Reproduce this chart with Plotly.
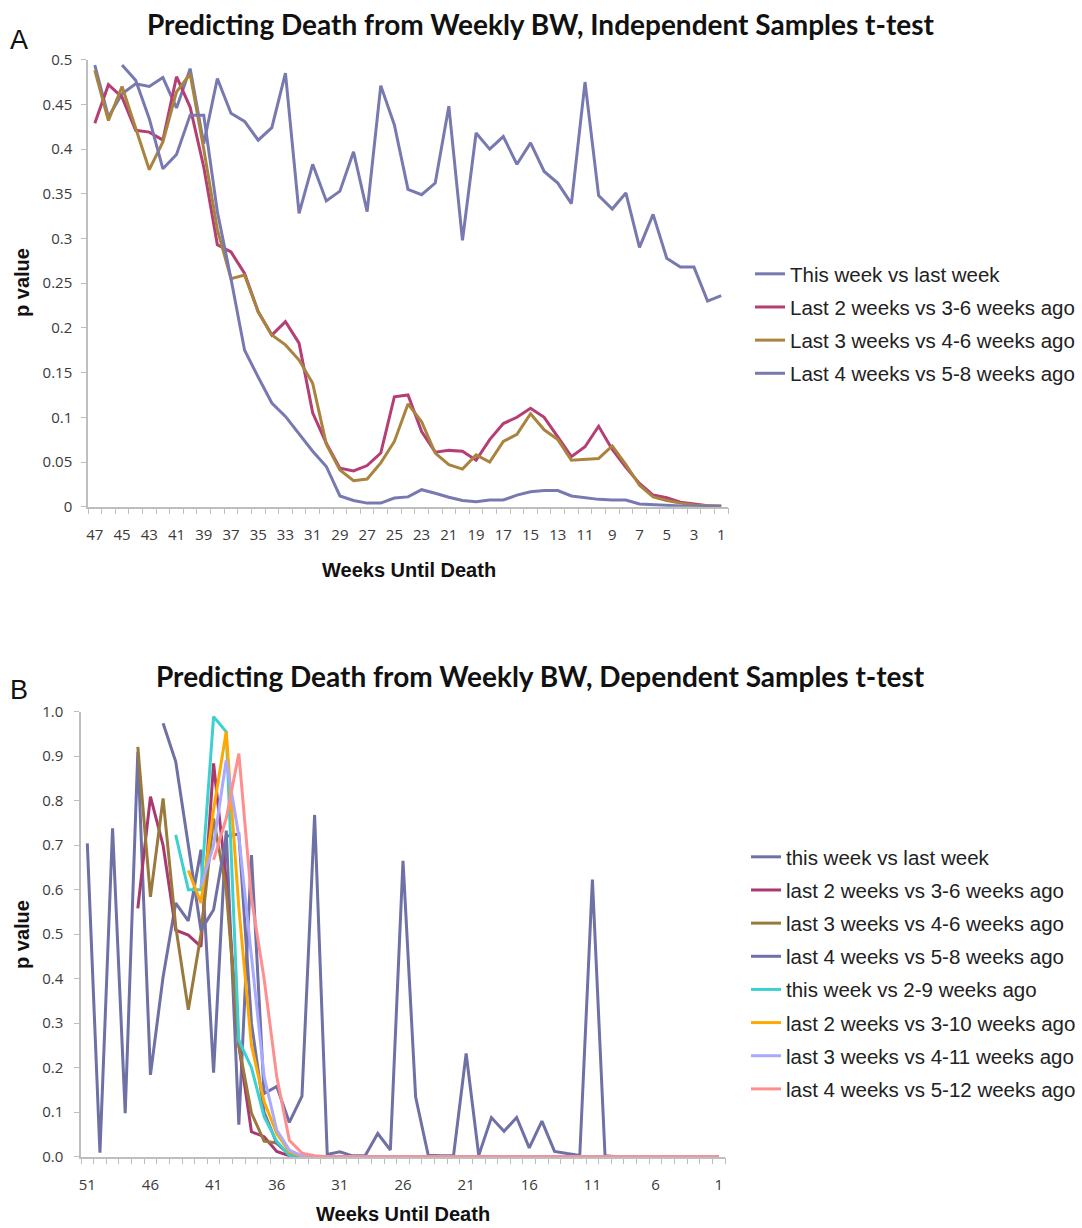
import plotly.graph_objects as go

# ---------------- Panel A: independent samples t-test ----------------
weeks_a = list(range(47, 0, -1))

this_week_a = [0.494, 0.436, 0.462, 0.473, 0.470, 0.480, 0.446, 0.490, 0.406, 0.479,
               0.440, 0.431, 0.410, 0.424, 0.485, 0.328, 0.383, 0.342, 0.353, 0.397,
               0.330, 0.471, 0.427, 0.355, 0.349, 0.362, 0.448, 0.298, 0.418, 0.400,
               0.414, 0.383, 0.407, 0.375, 0.362, 0.339, 0.475, 0.348, 0.333, 0.351,
               0.290, 0.327, 0.278, 0.268, 0.268, 0.230, 0.236]

last2_a = [0.429, 0.472, 0.458, 0.421, 0.419, 0.410, 0.481, 0.447, 0.380, 0.293,
           0.285, 0.261, 0.218, 0.192, 0.207, 0.183, 0.105, 0.071, 0.043, 0.040,
           0.046, 0.060, 0.123, 0.125, 0.084, 0.061, 0.063, 0.062, 0.052, 0.075,
           0.093, 0.100, 0.110, 0.100, 0.078, 0.056, 0.067, 0.090, 0.064, 0.044,
           0.026, 0.013, 0.010, 0.005, 0.003, 0.001, 0.0007]

last3_a = [0.488, 0.432, 0.470, 0.424, 0.377, 0.408, 0.464, 0.484, 0.400, 0.310,
           0.255, 0.259, 0.218, 0.192, 0.181, 0.164, 0.138, 0.070, 0.041, 0.029,
           0.031, 0.049, 0.073, 0.115, 0.095, 0.060, 0.047, 0.042, 0.058, 0.050,
           0.073, 0.081, 0.104, 0.086, 0.075, 0.052, 0.053, 0.054, 0.068, 0.047,
           0.024, 0.011, 0.007, 0.004, 0.002, 0.001, 0.0005]

last4_a = [None, None, 0.494, 0.477, 0.434, 0.378, 0.394, 0.438, 0.438, 0.330,
           0.255, 0.175, 0.145, 0.116, 0.101, 0.082, 0.062, 0.045, 0.012, 0.007,
           0.004, 0.004, 0.0097, 0.011, 0.019, 0.015, 0.0105, 0.007, 0.0056, 0.0075,
           0.0075, 0.013, 0.0168, 0.018, 0.018, 0.012, 0.0097, 0.0082, 0.0075, 0.0075,
           0.003, 0.002, 0.001, 0.0007, 0.0005, 0.0003, 0.0002]

names_a = ["This week vs last week", "Last 2 weeks vs 3-6 weeks ago",
           "Last 3 weeks vs 4-6 weeks ago", "Last 4 weeks vs 5-8 weeks ago"]
colors_a = ["#7779B0", "#B53E74", "#A8843F", "#7779B0"]

yticks_a = [0, 0.05, 0.1, 0.15, 0.2, 0.25, 0.3, 0.35, 0.4, 0.45, 0.5]
yticktext_a = ["0", "0.05", "0.1", "0.15", "0.2", "0.25", "0.3", "0.35", "0.4", "0.45", "0.5"]
xticks_a = list(range(47, 0, -2))

# ---------------- Panel B: dependent samples t-test ----------------
weeks_b = list(range(51, 0, -1))

this_week_b = [0.704, 0.009, 0.738, 0.098, 0.910, 0.184, 0.404, 0.570, 0.530, 0.690,
               0.189, 0.733, 0.072, 0.678, 0.142, 0.158, 0.077, 0.136, 0.768, 0.005,
               0.011, 0.002, 0.002, 0.052, 0.015, 0.665, 0.134, 0.003, 0.002, 0.002,
               0.232, 0.003, 0.088, 0.057, 0.088, 0.020, 0.080, 0.012, 0.007, 0.003,
               0.623, 0.002, 0.0, 0.0, 0.0, 0.0, 0.0, 0.0, 0.0, 0.0, 0.0]

last2_b = [None, None, None, None, 0.558, 0.809, 0.700, 0.509, 0.498, 0.472,
           0.884, 0.620, 0.250, 0.056, 0.045, 0.012, 0.002, 0.0, 0.0, 0.0,
           0.0, 0.0, 0.0, 0.0, 0.0, 0.0, 0.0, 0.0, 0.0, 0.0,
           0.0, 0.0, 0.0, 0.0, 0.0, 0.0, 0.0, 0.0, 0.0, 0.0,
           0.0, 0.0, 0.0, 0.0, 0.0, 0.0, 0.0, 0.0, 0.0, 0.0, 0.0]

last3_b = [None, None, None, None, 0.921, 0.584, 0.805, 0.518, 0.330, 0.500,
           0.760, 0.600, 0.250, 0.098, 0.035, 0.031, 0.004, 0.0, 0.0, 0.0,
           0.0, 0.0, 0.0, 0.0, 0.0, 0.0, 0.0, 0.0, 0.0, 0.0,
           0.0, 0.0, 0.0, 0.0, 0.0, 0.0, 0.0, 0.0, 0.0, 0.0,
           0.0, 0.0, 0.0, 0.0, 0.0, 0.0, 0.0, 0.0, 0.0, 0.0, 0.0]

last4_b = [None, None, None, None, None, None, 0.974, 0.888, 0.700, 0.509,
           0.555, 0.720, 0.725, 0.300, 0.100, 0.030, 0.005, 0.0, 0.0, 0.0,
           0.0, 0.0, 0.0, 0.0, 0.0, 0.0, 0.0, 0.0, 0.0, 0.0,
           0.0, 0.0, 0.0, 0.0, 0.0, 0.0, 0.0, 0.0, 0.0, 0.0,
           0.0, 0.0, 0.0, 0.0, 0.0, 0.0, 0.0, 0.0, 0.0, 0.0, 0.0]

this_vs_2to9_b = [None, None, None, None, None, None, None, 0.723, 0.600, 0.600,
                  0.989, 0.955, 0.262, 0.200, 0.090, 0.035, 0.003, 0.0, 0.0, 0.0,
                  0.0, 0.0, 0.0, 0.0, 0.0, 0.0, 0.0, 0.0, 0.0, 0.0,
                  0.0, 0.0, 0.0, 0.0, 0.0, 0.0, 0.0, 0.0, 0.0, 0.0,
                  0.0, 0.0, 0.0, 0.0, 0.0, 0.0, 0.0, 0.0, 0.0, 0.0, 0.0]

last2_vs_3to10_b = [None, None, None, None, None, None, None, None, 0.643, 0.570,
                    0.780, 0.955, 0.560, 0.250, 0.124, 0.052, 0.011, 0.001, 0.0, 0.0,
                    0.0, 0.0, 0.0, 0.0, 0.0, 0.0, 0.0, 0.0, 0.0, 0.0,
                    0.0, 0.0, 0.0, 0.0, 0.0, 0.0, 0.0, 0.0, 0.0, 0.0,
                    0.0, 0.0, 0.0, 0.0, 0.0, 0.0, 0.0, 0.0, 0.0, 0.0, 0.0]

last3_vs_4to11_b = [None, None, None, None, None, None, None, None, None, 0.607,
                    0.700, 0.891, 0.720, 0.450, 0.180, 0.060, 0.015, 0.002, 0.0, 0.0,
                    0.0, 0.0, 0.0, 0.0, 0.0, 0.0, 0.0, 0.0, 0.0, 0.0,
                    0.0, 0.0, 0.0, 0.0, 0.0, 0.0, 0.0, 0.0, 0.0, 0.0,
                    0.0, 0.0, 0.0, 0.0, 0.0, 0.0, 0.0, 0.0, 0.0, 0.0, 0.0]

last4_vs_5to12_b = [None, None, None, None, None, None, None, None, None, None,
                    0.667, 0.760, 0.906, 0.580, 0.400, 0.180, 0.037, 0.008, 0.002, 0.0,
                    0.0, 0.0, 0.0, 0.0, 0.0, 0.0, 0.0, 0.0, 0.0, 0.0,
                    0.0, 0.0, 0.0, 0.0, 0.0, 0.0, 0.0, 0.0, 0.0, 0.0,
                    0.0, 0.0, 0.0, 0.0, 0.0, 0.0, 0.0, 0.0, 0.0, 0.0, 0.0]

names_b = ["this week vs last week", "last 2 weeks vs 3-6 weeks ago",
           "last 3 weeks vs 4-6 weeks ago", "last 4 weeks vs 5-8 weeks ago",
           "this week vs 2-9 weeks ago", "last 2 weeks vs 3-10 weeks ago",
           "last 3 weeks vs 4-11 weeks ago", "last 4 weeks vs 5-12 weeks ago"]
colors_b = ["#6E70A6", "#A83A70", "#9A7A3C", "#6E70A6",
            "#3DD0CF", "#FFA800", "#A9A9FF", "#FF8F8F"]

yticks_b = [0, 0.1, 0.2, 0.3, 0.4, 0.5, 0.6, 0.7, 0.8, 0.9, 1.0]
xticks_b = list(range(51, 0, -5))

W, H = 1082, 1228


def px_x(v):
    return v / W


def px_y(v):
    return 1 - v / H


fig = go.Figure()

series_a = [this_week_a, last2_a, last3_a, last4_a]
for i, (ys, nm, col) in enumerate(zip(series_a, names_a, colors_a)):
    fig.add_trace(go.Scatter(
        x=weeks_a, y=ys, mode="lines", name=nm,
        line=dict(color=col, width=3), legend="legend",
        legendgroup="a%d" % i, xaxis="x", yaxis="y",
        connectgaps=False))

series_b = [this_week_b, last2_b, last3_b, last4_b,
            this_vs_2to9_b, last2_vs_3to10_b, last3_vs_4to11_b, last4_vs_5to12_b]
for i, (ys, nm, col) in enumerate(zip(series_b, names_b, colors_b)):
    fig.add_trace(go.Scatter(
        x=weeks_b, y=ys, mode="lines", name=nm,
        line=dict(color=col, width=3), legend="legend2",
        legendgroup="b%d" % i, xaxis="x2", yaxis="y2",
        connectgaps=False))

axis_grey = "#BEBEBE"
tick_font = dict(family="Open Sans, DejaVu Sans, sans-serif", size=15, color="#3A3A3A")
legend_font = dict(family="Liberation Sans, Arial, sans-serif", size=20.5, color="#222222")

fig.update_layout(
    width=W, height=H,
    margin=dict(l=0, r=0, t=0, b=0, autoexpand=False),
    paper_bgcolor="white", plot_bgcolor="white",
    showlegend=True,
    xaxis=dict(
        domain=[px_x(88), px_x(728)], anchor="y",
        range=[47.5, 0.5], showgrid=False, zeroline=False,
        showline=True, linecolor=axis_grey, linewidth=1.5,
        tickmode="array", tickvals=xticks_a, ticks="",
        ticklabelstandoff=14, tickfont=tick_font,
        minor=dict(tickvals=[w + 0.5 for w in weeks_a] + [0.5],
                   ticks="outside", ticklen=6, tickcolor=axis_grey, tickwidth=1),
    ),
    yaxis=dict(
        domain=[px_y(506.7), px_y(59.7)], anchor="x",
        range=[0, 0.5], showgrid=False, zeroline=False,
        showline=True, linecolor=axis_grey, linewidth=1.5,
        tickmode="array", tickvals=yticks_a, ticktext=yticktext_a,
        ticks="outside", ticklen=5, tickcolor=axis_grey,
        ticklabelstandoff=6, tickfont=tick_font,
    ),
    xaxis2=dict(
        domain=[px_x(81), px_x(725)], anchor="y2",
        range=[51.5, 0.5], showgrid=False, zeroline=False,
        showline=True, linecolor=axis_grey, linewidth=1.5,
        tickmode="array", tickvals=xticks_b, ticks="",
        ticklabelstandoff=14, tickfont=tick_font,
        minor=dict(tickvals=[w + 0.5 for w in weeks_b] + [0.5],
                   ticks="outside", ticklen=6, tickcolor=axis_grey, tickwidth=1),
    ),
    yaxis2=dict(
        domain=[px_y(1156.7), px_y(711.7)], anchor="x2",
        range=[0, 1.0], showgrid=False, zeroline=False,
        showline=True, linecolor=axis_grey, linewidth=1.5,
        tickmode="array", tickvals=yticks_b, tickformat=".1f",
        ticks="outside", ticklen=5, tickcolor=axis_grey,
        ticklabelstandoff=8, tickfont=tick_font,
    ),
    legend=dict(
        x=px_x(750), y=px_y(254), xanchor="left", yanchor="top",
        font=legend_font, tracegroupgap=3.5,
        bgcolor="rgba(0,0,0,0)", borderwidth=0,
    ),
    legend2=dict(
        x=px_x(746), y=px_y(837), xanchor="left", yanchor="top",
        font=legend_font, tracegroupgap=3.5,
        bgcolor="rgba(0,0,0,0)", borderwidth=0,
    ),
)

title_font = dict(family="Lato, Open Sans, sans-serif", size=28, color="#111111")
label_font = dict(family="Liberation Sans, Arial, sans-serif", size=20, color="#111111")
panel_font = dict(family="Liberation Sans, Arial, sans-serif", size=27, color="#111111")

annotations = [
    dict(text="<b>Predicting Death from Weekly BW, Independent Samples t-test</b>",
         x=px_x(540), y=px_y(24), font=title_font),
    dict(text="<b>Predicting Death from Weekly BW, Dependent Samples t-test</b>",
         x=px_x(540), y=px_y(676), font=title_font),
    dict(text="A", x=px_x(19), y=px_y(40), font=panel_font),
    dict(text="B", x=px_x(19), y=px_y(690), font=panel_font),
    dict(text="<b>p value</b>", x=px_x(22), y=px_y(283), textangle=-90, font=label_font),
    dict(text="<b>p value</b>", x=px_x(22), y=px_y(935), textangle=-90, font=label_font),
    dict(text="<b>Weeks Until Death</b>", x=px_x(409), y=px_y(570), font=label_font),
    dict(text="<b>Weeks Until Death</b>", x=px_x(403), y=px_y(1214), font=label_font),
]
for a in annotations:
    a.update(xref="paper", yref="paper", xanchor="center", yanchor="middle", showarrow=False)
fig.update_layout(annotations=annotations)

fig.write_html("out.html")
